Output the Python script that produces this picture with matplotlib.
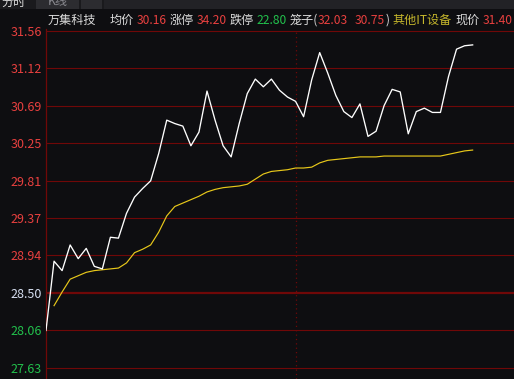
import numpy as np
import matplotlib
matplotlib.use("Agg")
import matplotlib.pyplot as plt

plt.rcParams['font.family'] = ['Noto Sans CJK SC', 'DejaVu Sans']

# Minutenpreise (weiss) und Durchschnittspreis (gelb)
price = [28.06, 28.87, 28.76, 29.06, 28.90, 29.02, 28.81, 28.78, 29.15, 29.14,
         29.43, 29.62, 29.72, 29.81, 30.13, 30.52, 30.48, 30.45, 30.22, 30.38,
         30.86, 30.52, 30.22, 30.09, 30.48, 30.83, 31.00, 30.91, 31.00, 30.87,
         30.79, 30.74, 30.56, 30.99, 31.31, 31.07, 30.81, 30.62, 30.55, 30.71,
         30.33, 30.39, 30.69, 30.88, 30.85, 30.36, 30.62, 30.66, 30.61, 30.61,
         31.03, 31.35, 31.39, 31.40]
avg_price = [np.nan, 28.35, 28.51, 28.66, 28.70, 28.74, 28.76, 28.77, 28.78, 28.79,
             28.85, 28.97, 29.01, 29.06, 29.21, 29.40, 29.51, 29.55, 29.59, 29.63,
             29.68, 29.71, 29.73, 29.74, 29.75, 29.77, 29.83, 29.89, 29.92, 29.93,
             29.94, 29.96, 29.96, 29.97, 30.02, 30.05, 30.06, 30.07, 30.08, 30.09,
             30.09, 30.09, 30.10, 30.10, 30.10, 30.10, 30.10, 30.10, 30.10, 30.10,
             30.12, 30.14, 30.16, 30.17]

prev_close = 28.50
tick_values = [27.625, 28.0625, 28.50, 28.9375, 29.375, 29.8125, 30.25, 30.6875, 31.125, 31.5625]
tick_labels = ['27.63', '28.06', '28.50', '28.94', '29.37', '29.81', '30.25', '30.69', '31.12', '31.56']
lunch_index = 31

# Farben
bg = '#0e0e11'
grid_red = '#700808'
up_red = '#e8403f'
down_green = '#22c04c'
neutral = '#d6def0'
text_white = '#dcdcdc'
yellow = '#e8c81a'

W, H = 514, 379
fig = plt.figure(figsize=(W / 100, H / 100), dpi=100, facecolor=bg)

def fx(px):
    return px / W

def fy(py):
    return 1 - py / H

# obere Tab-Leiste
fig.patches.append(plt.Rectangle((0, fy(9)), 1, 9 / H, transform=fig.transFigure,
                                 facecolor='#1a1a1d', edgecolor='none'))
fig.patches.append(plt.Rectangle((fx(104), fy(9)), 1, 9 / H, transform=fig.transFigure,
                                 facecolor='#222226', edgecolor='none'))
for x0, x1 in [(36, 79), (81, 102)]:
    fig.patches.append(plt.Rectangle((fx(x0), fy(9)), (x1 - x0) / W, 9 / H,
                                     transform=fig.transFigure,
                                     facecolor='#2c2c30', edgecolor='none'))
fig.text(fx(1), fy(2), '分时', color=text_white, fontsize=8.7, va='center', ha='left')
fig.text(fx(48), fy(2), 'K线', color='#8a8a90', fontsize=8.7, va='center', ha='left')

# Hauptdiagramm
top_px, left_px = 29, 46
px_per_unit = 85.5
y_top = 31.5625 + (31 - top_px) / px_per_unit
y_bot = 31.5625 - (H - 31) / px_per_unit
ax = fig.add_axes([fx(left_px), 0, 1 - fx(left_px), (H - top_px) / H])
ax.set_facecolor(bg)
ax.set_xlim(0, (W - left_px) / 8.05)
ax.set_ylim(y_bot, y_top)

for v in tick_values:
    ax.axhline(v, color=grid_red, lw=1.6 if v == prev_close else 0.8, zorder=1)
ax.axvline(lunch_index, color=grid_red, lw=0.9, ls=(0, (1, 2.5)), zorder=1)

x = np.arange(len(price))
ax.plot(x, avg_price, color=yellow, lw=0.85, zorder=3)
ax.plot(x, price, color='white', lw=0.95, zorder=4)

ax.set_xticks([])
ax.set_yticks(tick_values)
ax.set_yticklabels(tick_labels, fontsize=9)
for v, lab in zip(tick_values, ax.get_yticklabels()):
    if v > prev_close:
        lab.set_color(up_red)
    elif v < prev_close:
        lab.set_color(down_green)
    else:
        lab.set_color(neutral)
ax.tick_params(axis='y', length=0, pad=3)
for s in ['top', 'right', 'bottom']:
    ax.spines[s].set_visible(False)
ax.spines['left'].set_color(grid_red)
ax.spines['left'].set_linewidth(0.9)

# Kopfzeile
header = [(48, '万集科技', text_white), (110, '均价', text_white), (137, '30.16', up_red),
          (170, '涨停', text_white), (196.5, '34.20', up_red), (230, '跌停', text_white),
          (256.5, '22.80', down_green), (290, '笼子(', text_white), (318, '32.03', up_red),
          (355, '30.75', up_red), (386, ')', text_white), (392.5, '其他IT设备', '#c5b62c'),
          (455.5, '现价', text_white), (482.5, '31.40', up_red)]
for px, txt, col in header:
    fig.text(fx(px), fy(20), txt, color=col, fontsize=8.7, va='center', ha='left')

fig.savefig('out.png', dpi=100, facecolor=bg)
